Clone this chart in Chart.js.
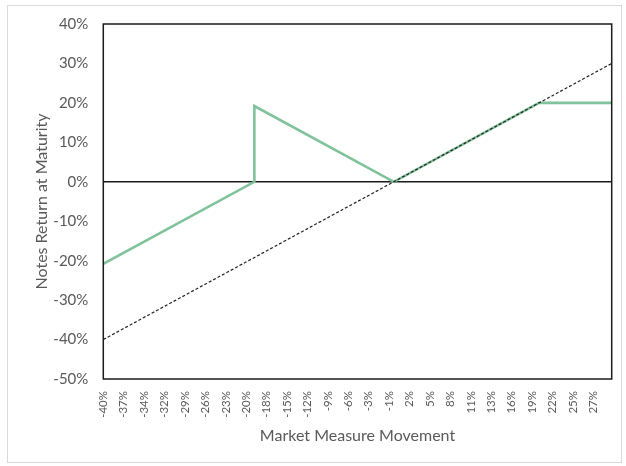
<!DOCTYPE html>
<html>
<head>
<meta charset="utf-8">
<script src="https://cdn.jsdelivr.net/npm/chart.js@4"></script>
<style>
  html, body { margin: 0; padding: 0; background: #ffffff; }
  #wrap { position: relative; width: 626px; height: 466px; }
</style>
</head>
<body>
<div id="wrap"><canvas id="c" width="626" height="466"></canvas></div>
<script>
// ---- data ----
const xTickValues = [-40, -37.19, -34.38, -31.57, -28.76, -25.94, -23.13, -20.32, -17.51, -14.70,
  -11.89, -9.08, -6.27, -3.45, -0.64, 2.17, 4.98, 7.79, 10.60, 13.41, 16.22, 19.04, 21.85, 24.66, 27.47];
const xTickLabels = ["-40%", "-37%", "-34%", "-32%", "-29%", "-26%", "-23%", "-20%", "-18%", "-15%",
  "-12%", "-9%", "-6%", "-3%", "-1%", "2%", "5%", "8%", "11%", "13%", "16%", "19%", "22%", "25%", "27%"];
const notesX = [-40, -19.2, -19.2, 0, 20, 30];
const notesY = [-20.8, 0, 19.2, 0, 20, 20];
const marketX = [-40, 30];
const marketY = [-40, 30];

const xTitle = "Market Measure Movement";
const yTitle = "Notes Return at Maturity";

const TEXT = "#595959";
const FONT = "Lato, 'Open Sans', sans-serif";

const frame = {
  id: 'frame',
  afterDraw(chart) {
    const { ctx, chartArea: a } = chart;
    ctx.save();
    ctx.strokeStyle = '#1a1a1a';
    ctx.lineWidth = 1.5;
    ctx.strokeRect(a.left, a.top, a.right - a.left, a.bottom - a.top);
    ctx.strokeStyle = '#d9d9d9';
    ctx.lineWidth = 1;
    ctx.strokeRect(7.5, 5.5, 614, 457);
    ctx.restore();
  }
};

new Chart(document.getElementById('c'), {
  type: 'line',
  data: {
    datasets: [
      {
        label: 'Notes',
        data: notesX.map((x, i) => ({ x, y: notesY[i] })),
        borderColor: '#80c29a',
        borderWidth: 2.6,
        pointRadius: 0,
        tension: 0,
        fill: false,
        order: 2
      },
      {
        label: 'Market',
        data: marketX.map((x, i) => ({ x, y: marketY[i] })),
        borderColor: '#222222',
        borderWidth: 1.2,
        borderDash: [3, 2],
        pointRadius: 0,
        tension: 0,
        fill: false,
        order: 1
      }
    ]
  },
  options: {
    responsive: false,
    animation: false,
    events: [],
    layout: { padding: { left: 32.4, right: 14.3, top: 23.3, bottom: 20.4 } },
    plugins: { legend: { display: false }, tooltip: { enabled: false } },
    scales: {
      x: {
        type: 'linear',
        min: -40,
        max: 30,
        afterBuildTicks(scale) { scale.ticks = xTickValues.map(v => ({ value: v })); },
        afterFit(scale) { scale.height = 66.6; },
        grid: { display: false, drawTicks: false },
        border: { display: false },
        ticks: {
          autoSkip: false,
          maxRotation: 90,
          minRotation: 90,
          padding: 12,
          color: TEXT,
          font: { family: FONT, size: 11.5 },
          callback: (v, i) => xTickLabels[i]
        },
        title: {
          display: true,
          text: xTitle,
          color: TEXT,
          font: { family: FONT, size: 16 },
          padding: { top: 0, bottom: 0 }
        }
      },
      y: {
        min: -50,
        max: 40,
        afterFit(scale) { scale.width = 70.9; },
        grid: {
          drawTicks: false,
          color: c => (c.tick && c.tick.value === 0) ? '#1a1a1a' : 'rgba(0,0,0,0)',
          lineWidth: c => (c.tick && c.tick.value === 0) ? 1.5 : 0
        },
        border: { display: false },
        ticks: {
          stepSize: 10,
          padding: 15,
          color: TEXT,
          font: { family: FONT, size: 15 },
          callback: v => v + '%'
        },
        title: {
          display: true,
          text: yTitle,
          color: TEXT,
          font: { family: FONT, size: 16 },
          padding: { top: 0, bottom: 0 }
        }
      }
    }
  },
  plugins: [frame]
});
</script>
</body>
</html>
